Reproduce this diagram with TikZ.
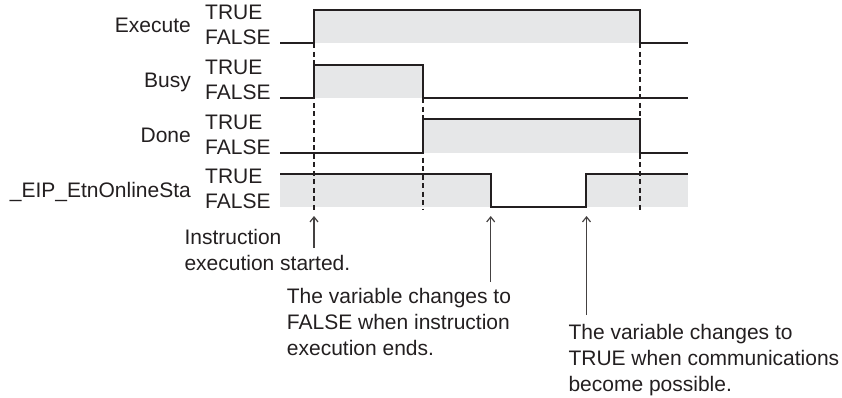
\documentclass[tikz,border=0pt]{standalone}
\usepackage{fontspec}
\setmainfont{Liberation Sans}
\usetikzlibrary{positioning,arrows.meta}
\definecolor{sigline}{HTML}{231F20}
\definecolor{sigfill}{HTML}{E6E7E8}

\tikzset{
  sig/.style={line width=2pt, draw=sigline, line join=miter},
  hi/.style={fill=sigfill, draw=none},
  guide/.style={draw=sigline, line width=1.3pt, dash pattern=on 5pt off 3.5pt},
  pointer/.style={-{Straight Barb[length=5pt,width=8pt]}, draw=sigline!85, line width=1.2pt},
  lbl/.style={inner sep=0pt, anchor=base east, text=sigline},
  lvl/.style={inner sep=0pt, anchor=base west, text=sigline},
  note/.style={inner sep=0pt, align=left, anchor=north west, text=sigline}
}

\begin{document}
\begin{tikzpicture}[x=1pt, y=-1pt, font=\fontsize{21}{25.8}\selectfont]
            \useasboundingbox (0,0) rectangle (842,398);

            % grey areas where the signals are TRUE
            \fill[hi] (314,9.8) rectangle (640,43.3);
            \fill[hi] (314,64.6) rectangle (423,98.1);
            \fill[hi] (423,119.2) rectangle (640,152.7);
            \fill[hi] (280,173.8) rectangle (490.7,207.3);
            \fill[hi] (586,173.8) rectangle (688,207.3);

            % dashed guides
            \coordinate (g1a) at (314,43.3);  \coordinate (g1b) at (314,210);
            \coordinate (g2a) at (423,98.1);  \coordinate (g2b) at (423,210);
            \coordinate (g3a) at (640,43.3);  \coordinate (g3b) at (640,210);
            \draw[guide] (g1a) -- (g1b);
            \draw[guide] (g2a) -- (g2b);
            \draw[guide] (g3a) -- (g3b);

            % Execute
            \begin{scope}[shift={(0,0)}]
                \draw[sig] (280,43.3) -- (314,43.3) -- (314,9.8) -- (640,9.8) -- (640,43.3) -- (688,43.3);
                \node[lbl] (execute) at (191,33) {Execute};
                \node[lvl] (execute-t) at (205,20) {TRUE};
                \node[lvl] (execute-f) at (205,45) {FALSE};
            \end{scope}

            % Busy
            \begin{scope}[shift={(0,54.8)}]
                \draw[sig] (280,43.3) -- (314,43.3) -- (314,9.8) -- (423,9.8) -- (423,43.3) -- (688,43.3);
                \node[lbl] (busy) at (191,33) {Busy};
                \node[lvl] (busy-t) at (205,20) {TRUE};
                \node[lvl] (busy-f) at (205,45) {FALSE};
            \end{scope}

            % Done
            \begin{scope}[shift={(0,109.4)}]
                \draw[sig] (280,43.3) -- (423,43.3) -- (423,9.8) -- (640,9.8) -- (640,43.3) -- (688,43.3);
                \node[lbl] (done) at (191,33) {Done};
                \node[lvl] (done-t) at (205,20) {TRUE};
                \node[lvl] (done-f) at (205,45) {FALSE};
            \end{scope}

            % _EIP_EtnOnlineSta
            \begin{scope}[shift={(0,164)}]
                \draw[sig] (280,9.8) -- (490.7,9.8) -- (490.7,43.3) -- (586,43.3) -- (586,9.8) -- (688,9.8);
                \node[lbl] (online) at (191,33) {\_EIP\_EtnOnlineSta};
                \node[lvl] (online-t) at (205,19) {TRUE};
                \node[lvl] (online-f) at (205,44.5) {FALSE};
            \end{scope}

            % notes
            \node[note] (started) at (184.3,229) {Instruction\\execution started.};
            \node[note] (ends) at (286.7,288) {The variable changes to\\FALSE when instruction\\execution ends.};
            \node[note] (possible) at (568.3,324) {The variable changes to\\TRUE when communications\\become possible.};

            \coordinate (p1) at (314,216);   \coordinate (q1) at (314,248);
            \coordinate (p2) at (490.7,216); \coordinate (q2) at (490.7,282);
            \coordinate (p3) at (586.5,216); \coordinate (q3) at (586.5,315);
            \draw[pointer] (q1) -- (p1);
            \draw[pointer] (q2) -- (p2);
            \draw[pointer] (q3) -- (p3);
        \end{tikzpicture}
\end{document}
